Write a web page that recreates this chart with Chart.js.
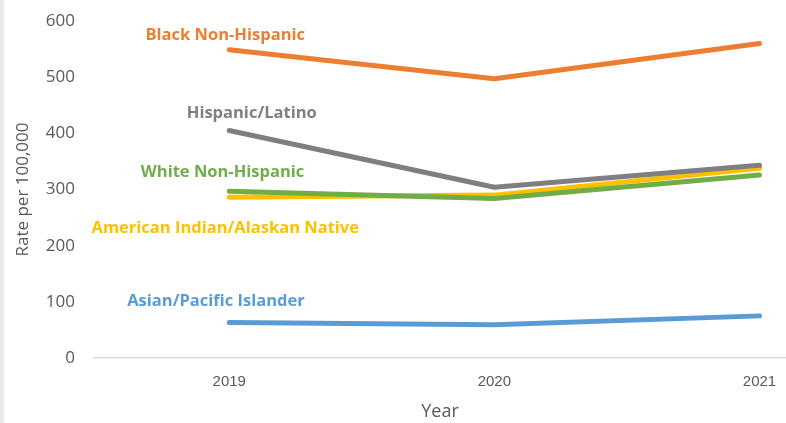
<!DOCTYPE html>
<html>
<head>
<meta charset="utf-8">
<script src="https://cdn.jsdelivr.net/npm/chart.js@4.4.1/dist/chart.umd.min.js"></script>
<style>
  html, body { margin: 0; padding: 0; }
  body { background: linear-gradient(to right, #e9e9ef 0 4px, #ffffff 4px); width: 786px; height: 423px; overflow: hidden; }
  canvas { display: block; }
</style>
</head>
<body>
<canvas id="chart" width="786" height="423"></canvas>
<script>
const years = [2019, 2020, 2021];
const seriesNames = ['Black Non-Hispanic', 'Hispanic/Latino', 'White Non-Hispanic', 'American Indian/Alaskan Native', 'Asian/Pacific Islander'];
const blackRates = [549, 497, 560];
const hispanicRates = [405, 304, 343];
const whiteRates = [297, 284, 326];
const aianRates = [286, 290, 338];
const asianRates = [63, 59, 75];
const seriesColors = ['#ED7D31', '#7F7F7F', '#70AD47', '#FFC000', '#5B9BD5'];
// where each series name sits, in axis units (year, rate)
const labelYears = [2018.985, 2019.085, 2018.975, 2018.985, 2018.95];
const labelRates = [574, 435, 330, 231, 101];

const allRates = [blackRates, hispanicRates, whiteRates, aianRates, asianRates];

const datasets = allRates.map((rates, i) => ({
    label: seriesNames[i],
    data: rates.map((r, j) => ({ x: years[j], y: r })),
    borderColor: seriesColors[i],
    backgroundColor: seriesColors[i],
    borderWidth: 5,
    borderCapStyle: 'round',
    borderJoinStyle: 'round',
    pointRadius: 0,
    tension: 0,
    fill: false,
}));

const seriesLabels = {
    id: 'seriesLabels',
    afterDatasetsDraw(chart) {
        const { ctx, scales: { x, y } } = chart;
        ctx.save();
        ctx.font = 'bold 16.5px "Open Sans"';
        ctx.textAlign = 'center';
        ctx.textBaseline = 'middle';
        seriesNames.forEach((name, i) => {
            ctx.fillStyle = seriesColors[i];
            ctx.fillText(name, x.getPixelForValue(labelYears[i]), y.getPixelForValue(labelRates[i]));
        });
        ctx.restore();
    }
};

new Chart(document.getElementById('chart'), {
    type: 'line',
    data: { datasets: datasets },
    plugins: [seriesLabels],
    options: {
        responsive: false,
        animation: false,
        layout: { padding: { top: 21, right: 0, bottom: 0, left: 0 } },
        plugins: {
            legend: { display: false },
            tooltip: { enabled: false },
        },
        scales: {
            x: {
                type: 'linear',
                min: 2018.49,
                max: 2021.1,
                grid: { display: false, drawTicks: true, tickLength: 15 },
                border: { display: true, color: '#d9d9d9', width: 1.5 },
                ticks: {
                    stepSize: 1,
                    includeBounds: false,
                    padding: 0,
                    color: '#595959',
                    font: { family: '"Liberation Sans"', size: 15 },
                    callback: v => String(v),
                },
                title: {
                    display: true,
                    text: 'Year',
                    color: '#595959',
                    font: { family: '"Open Sans"', size: 18 },
                    padding: { top: 4, bottom: 0 },
                },
                afterFit(scale) { scale.height = 65; },
            },
            y: {
                min: 0,
                max: 600,
                grid: { display: false, drawTicks: true, tickLength: 19 },
                border: { display: false },
                ticks: {
                    stepSize: 100,
                    padding: 0,
                    color: '#595959',
                    font: { family: '"Open Sans"', size: 17 },
                },
                title: {
                    display: true,
                    text: 'Rate per 100,000',
                    color: '#595959',
                    font: { family: '"Open Sans"', size: 17 },
                    padding: { top: 13, bottom: 0 },
                },
                afterFit(scale) { scale.width = 94; },
            },
        },
    },
});
</script>
</body>
</html>
